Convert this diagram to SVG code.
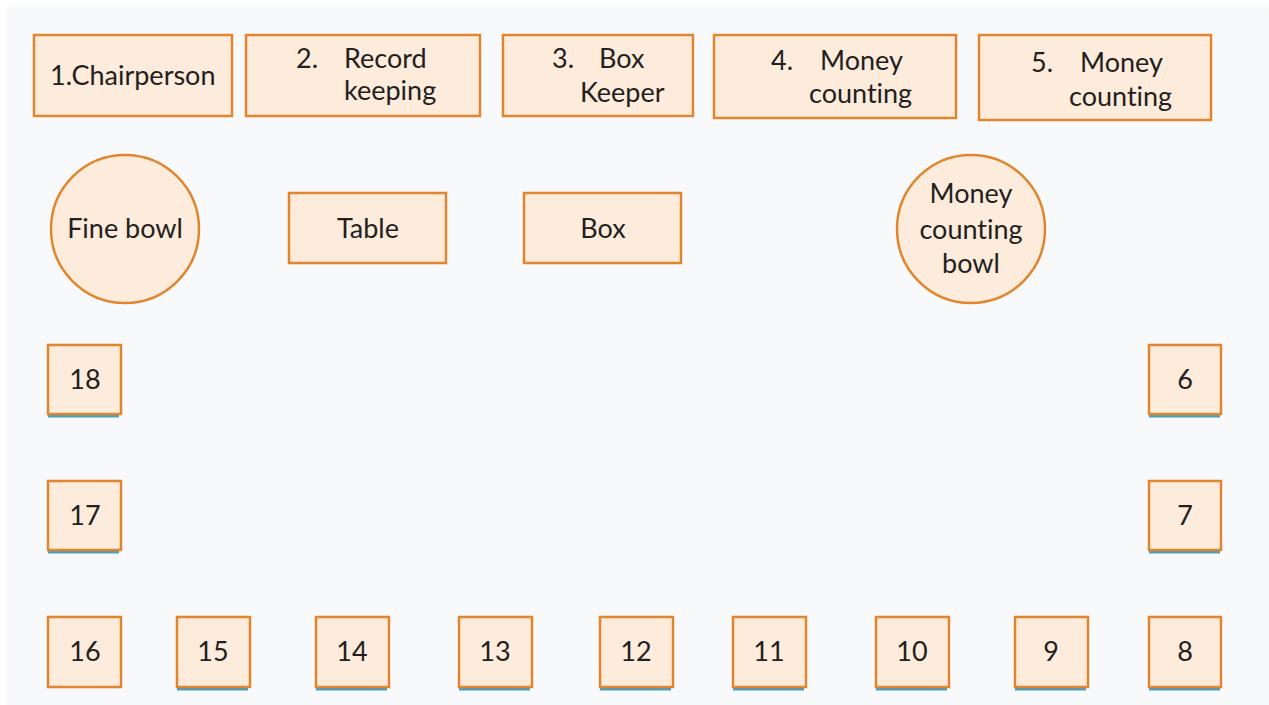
<svg xmlns="http://www.w3.org/2000/svg" width="1269" height="705" viewBox="0 0 1269 705">
<defs>
<style>
.n{fill:#fdebdc;stroke:#e0862e;stroke-width:2.5}
.t{font-family:Lato,"Open Sans","Liberation Sans",sans-serif;font-size:27px;fill:#231f20;font-variant-ligatures:none}
.m{text-anchor:middle}
.u{stroke:#4a9fbe;stroke-width:3}
</style>
</defs>
<rect x="0" y="0" width="1269" height="705" fill="#ffffff"/>
<rect x="7" y="7" width="1262" height="698" fill="#f8f9fb"/>
<g id="connectors"></g>
<g id="n1"><rect class="n" x="34" y="35" width="198" height="81"/><text class="t" x="50" y="85">1.Chairperson</text></g>
<g id="n2"><rect class="n" x="246" y="35" width="234" height="81"/><text class="t" x="296" y="68">2.</text><text class="t" x="344" y="68">Record</text><text class="t" x="344" y="100">keeping</text></g>
<g id="n3"><rect class="n" x="503" y="35" width="190" height="81"/><text class="t" x="552" y="68">3.</text><text class="t" x="599" y="68">Box</text><text class="t" x="580" y="102">Keeper</text></g>
<g id="n4"><rect class="n" x="714" y="35" width="242" height="83"/><text class="t" x="771" y="70">4.</text><text class="t" x="820" y="70">Money</text><text class="t" x="809" y="103">counting</text></g>
<g id="n5"><rect class="n" x="979" y="35" width="232" height="85"/><text class="t" x="1031" y="72">5.</text><text class="t" x="1080" y="72">Money</text><text class="t" x="1069" y="106">counting</text></g>
<g id="fine-bowl"><circle class="n" cx="125" cy="229" r="74"/><text class="t m" x="125" y="238">Fine bowl</text></g>
<g id="table"><rect class="n" x="289" y="193" width="157" height="70"/><text class="t m" x="368" y="238">Table</text></g>
<g id="box"><rect class="n" x="524" y="193" width="157" height="70"/><text class="t m" x="603" y="238">Box</text></g>
<g id="money-bowl"><circle class="n" cx="971" cy="229" r="74"/><text class="t m" x="971" y="203">Money</text><text class="t m" x="971" y="239">counting</text><text class="t m" x="971" y="273">bowl</text></g>
<g id="s18"><line class="u" x1="48" y1="416" x2="119" y2="416"/><rect class="n" x="48" y="345" width="73" height="69"/><text class="t m" x="85" y="389">18</text></g>
<g id="s17"><line class="u" x1="48" y1="552" x2="119" y2="552"/><rect class="n" x="48" y="481" width="73" height="69"/><text class="t m" x="85" y="525">17</text></g>
<g id="s6"><line class="u" x1="1149" y1="416" x2="1220" y2="416"/><rect class="n" x="1149" y="345" width="72" height="69"/><text class="t m" x="1185" y="389">6</text></g>
<g id="s7"><line class="u" x1="1149" y1="552" x2="1220" y2="552"/><rect class="n" x="1149" y="481" width="72" height="69"/><text class="t m" x="1185" y="525">7</text></g>
<g id="s16"><rect class="n" x="48" y="617" width="73" height="70"/><text class="t m" x="85" y="661">16</text></g>
<g id="s15"><line class="u" x1="177" y1="689" x2="248" y2="689"/><rect class="n" x="177" y="617" width="73" height="70"/><text class="t m" x="213" y="661">15</text></g>
<g id="s14"><line class="u" x1="316" y1="689" x2="387" y2="689"/><rect class="n" x="316" y="617" width="73" height="70"/><text class="t m" x="352" y="661">14</text></g>
<g id="s13"><line class="u" x1="459" y1="689" x2="530" y2="689"/><rect class="n" x="459" y="617" width="73" height="70"/><text class="t m" x="495" y="661">13</text></g>
<g id="s12"><line class="u" x1="600" y1="689" x2="671" y2="689"/><rect class="n" x="600" y="617" width="73" height="70"/><text class="t m" x="636" y="661">12</text></g>
<g id="s11"><line class="u" x1="733" y1="689" x2="804" y2="689"/><rect class="n" x="733" y="617" width="73" height="70"/><text class="t m" x="769" y="661">11</text></g>
<g id="s10"><line class="u" x1="876" y1="689" x2="947" y2="689"/><rect class="n" x="876" y="617" width="73" height="70"/><text class="t m" x="912" y="661">10</text></g>
<g id="s9"><line class="u" x1="1015" y1="689" x2="1086" y2="689"/><rect class="n" x="1015" y="617" width="73" height="70"/><text class="t m" x="1051" y="661">9</text></g>
<g id="s8"><line class="u" x1="1149" y1="689" x2="1220" y2="689"/><rect class="n" x="1149" y="617" width="72" height="70"/><text class="t m" x="1185" y="661">8</text></g>
</svg>
